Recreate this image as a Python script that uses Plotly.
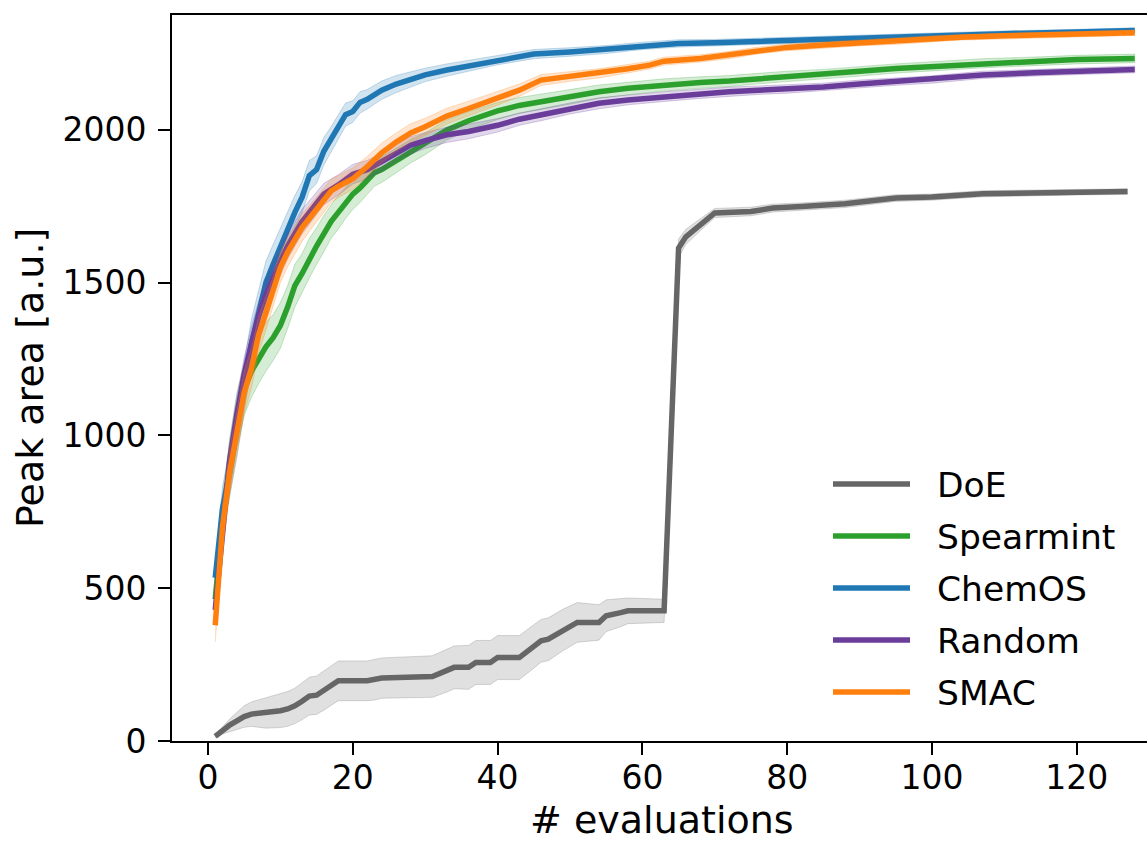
import plotly.graph_objects as go

# ---------------- data ----------------
series_names = ["DoE", "Spearmint", "ChemOS", "Random", "SMAC"]

doe_x = [1, 2, 3, 4, 5, 6, 8, 10, 11, 12, 13, 14, 15, 16, 17, 18, 22, 23, 24, 31,
         33, 34, 36, 37, 39, 40, 43, 45, 46, 47, 49, 51, 54, 55, 57, 58, 63, 64, 65, 66,
         68, 70, 75, 78, 82, 88, 95, 100, 107, 115, 120, 127]
doe_y = [15, 35, 52, 66, 80, 88, 92, 99, 105, 115, 130, 147, 150, 165, 180, 197, 197, 200, 206, 211,
         230, 241, 241, 257, 257, 273, 273, 310, 328, 333, 363, 388, 388, 410, 420, 426, 426, 1010, 1613, 1650,
         1690, 1728, 1733, 1744, 1749, 1758, 1777, 1780, 1791, 1793, 1796, 1798]
doe_sd = [5, 12, 20, 28, 35, 40, 50, 55, 57, 58, 60, 62, 63, 64, 65, 65, 65, 66, 66, 68,
          70, 70, 72, 72, 72, 72, 72, 72, 70, 70, 68, 65, 58, 52, 46, 42, 38, 32, 30, 25,
          20, 15, 14, 13, 12, 12, 11, 10, 10, 9, 9, 9]

spearmint_x = [1, 2, 3, 4, 5, 6, 7, 8, 9, 10, 11, 12, 13, 14, 15, 16, 17, 18, 19, 20, 21, 22, 23, 24,
               26, 28, 30, 33, 36, 40, 43, 46, 50, 54, 58, 63, 68, 72, 76, 80, 85, 90, 95, 100,
               107, 115, 120, 128]
spearmint_y = [464, 720, 900, 1050, 1150, 1210, 1250, 1290, 1320, 1360, 1420, 1490, 1530, 1580, 1620, 1660,
               1700, 1730, 1760, 1790, 1810, 1835, 1860, 1870,
               1900, 1930, 1955, 2000, 2030, 2062, 2080, 2093, 2108, 2125,
               2136, 2147, 2155, 2160, 2168, 2175, 2182, 2192, 2201, 2208,
               2218, 2225, 2230, 2234]
spearmint_sd = [50, 80, 90, 90, 85, 85, 80, 80, 75, 75, 70, 70, 65, 65, 60, 60, 55, 55, 50, 50, 48, 46, 44, 42,
                40, 38, 36, 33, 30, 28, 26, 25, 24, 22, 21, 20, 19, 18, 17, 17, 16, 16, 15, 15,
                15, 14, 14, 14]

chemos_x = [1, 2, 3, 4, 5, 6, 7, 8, 9, 10, 11, 12, 13, 14, 15, 16, 17, 18, 19, 20, 21, 22,
            24, 26, 28, 30, 33, 36, 40, 45, 50, 55, 60, 65, 70, 80, 90, 100, 110, 120, 128]
chemos_y = [534, 760, 880, 1010, 1160, 1300, 1400, 1500, 1560, 1620, 1680, 1730, 1780, 1850, 1870, 1930,
            1970, 2010, 2050, 2060, 2090, 2100,
            2130, 2150, 2165, 2180, 2196, 2210, 2229, 2248, 2255, 2263, 2275, 2283, 2285, 2293,
            2300, 2308, 2315, 2320, 2325]
chemos_sd = [40, 70, 80, 80, 80, 80, 75, 70, 65, 60, 55, 55, 50, 50, 45, 45, 40, 40, 38, 35, 35, 32,
             30, 28, 25, 22, 20, 18, 16, 15, 14, 13, 12, 12, 11, 10, 10, 10, 9, 9, 9]

random_x = [1, 2, 3, 4, 5, 6, 7, 8, 9, 10, 11, 12, 13, 14, 15, 16,
            18, 20, 22, 24, 26, 28, 30, 33, 36, 40, 43, 46, 50, 54, 58, 63, 68, 72, 76, 80,
            85, 90, 95, 100, 107, 115, 120, 128]
random_y = [429, 700, 920, 1070, 1200, 1300, 1390, 1460, 1520, 1570, 1620, 1660, 1700, 1730, 1760, 1790,
            1820, 1855, 1870, 1895, 1925, 1950, 1965, 1984, 1995, 2015,
            2035, 2050, 2070, 2087, 2098, 2109, 2118, 2125, 2130, 2134,
            2140, 2150, 2158, 2165, 2180, 2188, 2193, 2198]
random_sd = [45, 60, 60, 60, 55, 55, 50, 50, 45, 45, 42, 40, 40, 38, 36, 35,
             33, 32, 30, 30, 28, 28, 26, 25, 24, 22, 20, 20, 18, 18, 16, 16, 15, 15, 14, 14,
             13, 13, 12, 12, 12, 11, 11, 11]

smac_x = [1, 2, 3, 4, 5, 6, 7, 8, 9, 10, 11, 12, 13, 14, 15, 16, 17, 18,
          20, 22, 24, 26, 28, 30, 33, 36, 40, 43, 46, 50, 54, 58, 61, 63, 68, 72, 76, 80,
          85, 90, 95, 100, 104, 110, 115, 120, 128]
smac_y = [379, 700, 880, 1010, 1140, 1220, 1330, 1400, 1470, 1550, 1600, 1640, 1680, 1710, 1740, 1770, 1800, 1815,
          1840, 1880, 1925, 1960, 1990, 2010, 2045, 2070, 2103, 2130,
          2163, 2175, 2185, 2200, 2212, 2225, 2234, 2245, 2260, 2270,
          2278, 2285, 2290, 2298, 2303, 2308, 2310, 2313, 2318]
smac_sd = [55, 70, 75, 75, 70, 65, 60, 55, 50, 50, 48, 45, 45, 42, 40, 40, 38, 36,
           35, 33, 32, 30, 30, 28, 26, 24, 22, 20, 18, 16, 15, 14, 13, 13, 12, 12, 11, 11,
           10, 10, 10, 10, 9, 9, 9, 9, 9]

x_ticks = [0, 20, 40, 60, 80, 100, 120]
y_ticks = [0, 500, 1000, 1500, 2000]

# ---------------- styling ----------------
colors = {
    "DoE": (102, 102, 102),
    "Spearmint": (44, 160, 44),
    "ChemOS": (31, 119, 180),
    "Random": (106, 61, 154),
    "SMAC": (255, 127, 14),
}
FONT = "DejaVu Sans"
TICK_SIZE = 33
TITLE_SIZE = 38
LEGEND_SIZE = 34.5
W, H = 1147, 842
L, R, T, B = 172, 1147, 15, 741   # plot area in pixels


def px_x(p):
    return (p - L) / (R - L)


def px_y(p):
    return (B - p) / (B - T)


data = {
    "DoE": (doe_x, doe_y, doe_sd),
    "Spearmint": (spearmint_x, spearmint_y, spearmint_sd),
    "ChemOS": (chemos_x, chemos_y, chemos_sd),
    "Random": (random_x, random_y, random_sd),
    "SMAC": (smac_x, smac_y, smac_sd),
}

fig = go.Figure()
for name in series_names:
    xs, ys, sds = data[name]
    r, g, b = colors[name]
    upper = [y + s for y, s in zip(ys, sds)]
    lower = [y - s for y, s in zip(ys, sds)]
    fig.add_trace(go.Scatter(
        x=list(xs) + list(xs)[::-1], y=upper + lower[::-1],
        fill="toself", fillcolor=f"rgba({r},{g},{b},0.2)",
        line=dict(color=f"rgba({r},{g},{b},0.25)", width=1),
        hoverinfo="skip", showlegend=False, mode="lines"))
    fig.add_trace(go.Scatter(
        x=xs, y=ys, mode="lines", name=name,
        line=dict(color=f"rgb({r},{g},{b})", width=5.5),
        showlegend=False))

# custom legend (long line samples like the reference)
shapes = []
annotations = []
leg_y = [484, 536, 588, 640, 692]
for name, ly in zip(series_names, leg_y):
    r, g, b = colors[name]
    shapes.append(dict(type="line", xref="paper", yref="paper",
                       x0=px_x(833), x1=px_x(910), y0=px_y(ly), y1=px_y(ly),
                       line=dict(color=f"rgb({r},{g},{b})", width=5.5)))
    annotations.append(dict(text=name, xref="paper", yref="paper",
                            x=px_x(935), y=px_y(ly + 1), xanchor="left", yanchor="middle",
                            showarrow=False, font=dict(family=FONT, size=LEGEND_SIZE, color="black")))

# axis titles
annotations.append(dict(text="# evaluations", xref="paper", yref="paper",
                        x=px_x(662), y=px_y(820), xanchor="center", yanchor="middle",
                        borderpad=0,
                        showarrow=False, font=dict(family=FONT, size=TITLE_SIZE, color="black")))
annotations.append(dict(text="Peak area [a.u.]", xref="paper", yref="paper",
                        x=px_x(30), y=0.5, xanchor="center", yanchor="middle", textangle=-90,
                        showarrow=False, font=dict(family=FONT, size=TITLE_SIZE, color="black")))

fig.update_layout(
    width=W, height=H,
    margin=dict(l=L, r=W - R, t=T, b=H - B, pad=0),
    paper_bgcolor="white", plot_bgcolor="white",
    font=dict(family=FONT, size=TICK_SIZE, color="black"),
    shapes=shapes, annotations=annotations,
    showlegend=False,
    xaxis=dict(range=[-4.97, 129.7], tickvals=x_ticks, ticktext=[str(v) for v in x_ticks],
               showgrid=False, zeroline=False, showline=True, linecolor="black", linewidth=2,
               mirror=True, ticks="outside", ticklen=12, tickwidth=2, tickcolor="black",
               ticklabelstandoff=-6, tickfont=dict(family=FONT, size=TICK_SIZE, color="black")),
    yaxis=dict(range=[0, 2376], tickvals=y_ticks, ticktext=[str(v) for v in y_ticks],
               showgrid=False, zeroline=False, showline=True, linecolor="black", linewidth=2,
               mirror=False, ticks="outside", ticklen=12, tickwidth=2, tickcolor="black",
               ticklabelstandoff=5, tickfont=dict(family=FONT, size=TICK_SIZE, color="black")),
)

fig.write_html("out.html", config={"displayModeBar": False},
               post_script="document.body.style.margin='0';document.body.style.overflow='hidden';")
